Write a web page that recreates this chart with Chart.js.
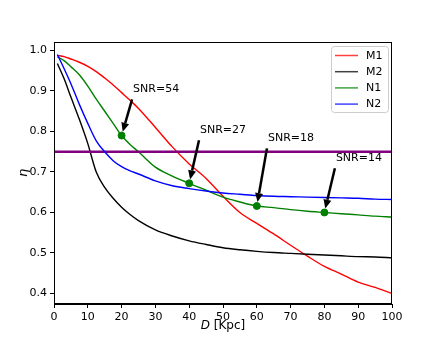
<!DOCTYPE html>
<html>
<head>
<meta charset="utf-8">
<script src="https://cdn.jsdelivr.net/npm/chart.js@4.4.0/dist/chart.umd.min.js"></script>
<style>
    html, body { margin: 0; padding: 0; background: #fff; }
    #wrap { width: 436px; height: 349px; }
</style>
</head>
<body>
<div id="wrap"><canvas id="chart" width="436" height="349"></canvas></div>
<script>
// distance D [Kpc] and efficiency eta for each configuration
const distances = [1, 3, 5, 7.5, 10, 12.5, 15, 17.5, 20, 22.5, 25, 30, 35, 40, 45, 50, 55, 60, 65, 70, 75, 80, 85, 90, 95, 100];
const m1 = [0.988, 0.985, 0.979, 0.971, 0.961, 0.948, 0.932, 0.915, 0.896, 0.877, 0.857, 0.81, 0.762, 0.72, 0.684, 0.64, 0.6, 0.573, 0.547, 0.519, 0.492, 0.467, 0.448, 0.428, 0.415, 0.40];
const m2 = [0.968, 0.93, 0.885, 0.83, 0.77, 0.70, 0.662, 0.635, 0.613, 0.595, 0.58, 0.557, 0.542, 0.53, 0.521, 0.513, 0.508, 0.504, 0.501, 0.499, 0.497, 0.495, 0.493, 0.491, 0.49, 0.488];
const n1 = [0.984, 0.975, 0.96, 0.94, 0.912, 0.88, 0.85, 0.82, 0.79, 0.768, 0.75, 0.712, 0.69, 0.672, 0.655, 0.638, 0.626, 0.616, 0.612, 0.607, 0.603, 0.60, 0.597, 0.594, 0.591, 0.589];
const n2 = [0.99, 0.955, 0.918, 0.867, 0.82, 0.777, 0.75, 0.728, 0.713, 0.703, 0.695, 0.678, 0.666, 0.659, 0.653, 0.648, 0.645, 0.642, 0.64, 0.639, 0.638, 0.637, 0.636, 0.635, 0.633, 0.632];
const seriesNames = ['M1', 'M2', 'N1', 'N2'];
const seriesColors = ['#ff0000', '#000000', '#008000', '#0000ff'];

const threshold = 0.75;

// SNR annotations on the N1 curve
const snrLabels = ['SNR=54', 'SNR=27', 'SNR=18', 'SNR=14'];
const snrDistances = [20, 40, 60, 80];
const snrTextD = [23.4, 43.2, 63.3, 83.4];
const snrTextEta = [0.904, 0.803, 0.783, 0.734];

const xTicks = [0, 10, 20, 30, 40, 50, 60, 70, 80, 90, 100];
const yTicks = [0.4, 0.5, 0.6, 0.7, 0.8, 0.9, 1.0];

const toPoints = vals => distances.map((d, i) => ({ x: d, y: vals[i] }));
const snrPoints = snrDistances.map(d => ({ x: d, y: n1[distances.indexOf(d)] }));

const FONT = 'DejaVu Sans';

const extrasPlugin = {
    id: 'extras',
    afterDatasetsDraw(chart) {
        const { ctx, chartArea: a, scales: { x, y } } = chart;
        ctx.save();

        // frame
        ctx.strokeStyle = '#000';
        ctx.lineWidth = 1;
        ctx.strokeRect(a.left + 0.5, a.top + 0.5, a.right - a.left - 1, a.bottom - a.top - 1);

        // annotations with arrows
        ctx.font = '11px "' + FONT + '"';
        ctx.fillStyle = '#000';
        ctx.textBaseline = 'middle';
        ctx.textAlign = 'left';
        snrLabels.forEach((label, i) => {
            const tx = x.getPixelForValue(snrTextD[i]);
            const ty = y.getPixelForValue(snrTextEta[i]);
            ctx.fillText(label, tx, ty);
            const x0 = tx - 1, y0 = ty + 10;
            const mx = x.getPixelForValue(snrPoints[i].x);
            const my = y.getPixelForValue(snrPoints[i].y);
            const ang = Math.atan2(my - y0, mx - x0);
            const x1 = mx - 4 * Math.cos(ang), y1 = my - 4 * Math.sin(ang);
            const head = 9, half = 4;
            const bx = x1 - head * Math.cos(ang), by = y1 - head * Math.sin(ang);
            ctx.strokeStyle = '#000';
            ctx.lineWidth = 2.5;
            ctx.beginPath();
            ctx.moveTo(x0, y0);
            ctx.lineTo(bx, by);
            ctx.stroke();
            ctx.beginPath();
            ctx.moveTo(x1, y1);
            ctx.lineTo(bx - half * Math.sin(ang), by + half * Math.cos(ang));
            ctx.lineTo(bx + half * Math.sin(ang), by - half * Math.cos(ang));
            ctx.closePath();
            ctx.fill();
        });

        // legend box
        const lx = a.right - 61, ly = a.top + 4, lw = 57, lh = 66;
        ctx.fillStyle = 'rgba(255,255,255,0.85)';
        ctx.strokeStyle = '#cccccc';
        ctx.lineWidth = 1;
        ctx.beginPath();
        ctx.roundRect(lx + 0.5, ly + 0.5, lw, lh, 3);
        ctx.fill();
        ctx.stroke();
        ctx.font = '11px "' + FONT + '"';
        seriesNames.forEach((name, i) => {
            const yy = ly + 9.5 + i * 16.2;
            ctx.strokeStyle = seriesColors[i];
            ctx.globalAlpha = 0.75;
            ctx.lineWidth = 1.5;
            ctx.beginPath();
            ctx.moveTo(lx + 4, yy);
            ctx.lineTo(lx + 27, yy);
            ctx.stroke();
            ctx.globalAlpha = 1;
            ctx.fillStyle = '#000';
            ctx.fillText(name, lx + 35, yy + 0.5);
        });

        // axis titles
        ctx.textAlign = 'center';
        ctx.textBaseline = 'middle';
        const cx = (a.left + a.right) / 2;
        ctx.font = 'italic 12px "' + FONT + '"';
        const dW = ctx.measureText('D').width;
        ctx.font = '12px "' + FONT + '"';
        const restW = ctx.measureText(' [Kpc]').width;
        const startX = cx - (dW + restW) / 2;
        ctx.textAlign = 'left';
        ctx.font = 'italic 12px "' + FONT + '"';
        ctx.fillText('D', startX, 326);
        ctx.font = '12px "' + FONT + '"';
        ctx.fillText(' [Kpc]', startX + dW, 326);

        ctx.translate(24, (a.top + a.bottom) / 2);
        ctx.rotate(-Math.PI / 2);
        ctx.textAlign = 'center';
        ctx.font = 'italic 13px "' + FONT + '"';
        ctx.fillText('η', 0, 0);
        ctx.restore();
    }
};

const chart = new Chart(document.getElementById('chart'), {
    type: 'line',
    data: {
        datasets: [
            ...seriesNames.map((name, i) => ({
                label: name,
                data: toPoints([m1, m2, n1, n2][i]),
                borderColor: seriesColors[i],
                borderWidth: 1.4,
                pointRadius: 0,
                tension: 0.3,
                cubicInterpolationMode: 'monotone',
                order: 4 - i
            })),
            {
                label: 'threshold',
                data: [{ x: 0, y: threshold }, { x: 100, y: threshold }],
                borderColor: '#800080',
                borderWidth: 2.5,
                pointRadius: 0,
                order: 1
            },
            {
                label: 'SNR',
                data: snrPoints,
                showLine: false,
                pointRadius: 3.5,
                pointBackgroundColor: '#008000',
                pointBorderColor: '#008000',
                order: 0
            }
        ]
    },
    options: {
        responsive: false,
        animation: false,
        devicePixelRatio: 1,
        layout: { padding: { top: 42, right: 44, left: 0, bottom: 0 } },
        plugins: {
            legend: { display: false },
            tooltip: { enabled: false }
        },
        scales: {
            x: {
                type: 'linear',
                min: 0,
                max: 100,
                afterBuildTicks: scale => { scale.ticks = xTicks.map(v => ({ value: v })); },
                afterFit: scale => { scale.height = 45; },
                grid: { drawOnChartArea: false, tickLength: 4, color: '#000', tickColor: '#000' },
                border: { color: '#000', width: 1 },
                ticks: {
                    color: '#000',
                    padding: 3,
                    maxRotation: 0,
                    font: { family: FONT, size: 11 }
                }
            },
            y: {
                min: 0.374,
                max: 1.021,
                afterBuildTicks: scale => { scale.ticks = yTicks.map(v => ({ value: v })); },
                afterFit: scale => { scale.width = 54; },
                grid: { drawOnChartArea: false, tickLength: 4, color: '#000', tickColor: '#000' },
                border: { color: '#000', width: 1 },
                ticks: {
                    color: '#000',
                    padding: 3,
                    font: { family: FONT, size: 11 },
                    callback: v => v.toFixed(1)
                }
            }
        }
    },
    plugins: [extrasPlugin]
});
</script>
</body>
</html>
